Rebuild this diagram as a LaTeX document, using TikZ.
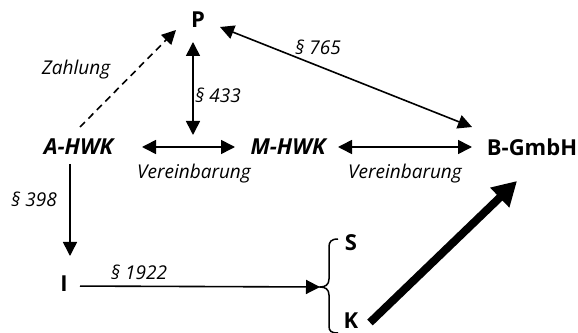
\documentclass[tikz,border=0pt]{standalone}
\usepackage{fontspec}
\setmainfont{Open Sans}
\usetikzlibrary{arrows.meta}
\tikzset{
  lbl/.style={font=\bfseries\fontsize{22}{24}\selectfont, inner sep=0pt},
  lbli/.style={font=\bfseries\itshape\fontsize{22}{24}\selectfont, inner sep=0pt},
  note/.style={font=\itshape\fontsize{19}{21}\selectfont, inner sep=0pt},
  con/.style={line width=1.6pt, -{Triangle[length=14pt,width=14pt]}},
  dcon/.style={line width=1.6pt, {Triangle[length=14pt,width=14pt]}-{Triangle[length=14pt,width=14pt]}},
  bigarrow/.style={line width=8pt, -{Triangle[length=24pt,width=26pt]}},
}
\begin{document}
\begin{tikzpicture}[x=1pt,y=1pt]
\useasboundingbox (0,0) rectangle (578,332);
% nodes
\node[lbl]  (P) at (198,312) {P};
\node[lbli] (A) at (78.5,185) {A-HWK};
\node[lbli] (M) at (288,185) {M-HWK};
\node[lbl]  (B) at (532,185) {B-GmbH};
\node[lbl]  (I) at (64,48) {I};
\node[lbl]  (S) at (351,89) {S};
\node[lbl]  (K) at (351,11.5) {K};
\coordinate (br) at (320,45);
% labels
\node[note] (zahl) at (76,262) {Zahlung};
\node[note] (p433) at (218,237) {§ 433};
\node[note] (p765) at (318,285) {§ 765};
\node[note] (p398) at (34,133) {§ 398};
\node[note] (p1922) at (139,60) {§ 1922};
\node[note] (v1) at (194,158) {Vereinbarung};
\node[note] (v2) at (405,158) {Vereinbarung};
% connectors
\draw[dcon, shorten <=63.5pt, shorten >=53pt] (A.center) -- (M.center);
\draw[dcon, shorten <=50pt, shorten >=60pt] (M.center) -- (B.center);
\draw[dcon, shorten <=22pt, shorten >=12pt] ([xshift=-5pt]P.center) -- ([xshift=-5pt]P.center |- A.center);
\draw[con, dash pattern=on 7pt off 5pt] ([shift={(1.5,20)}]A.center) -- ([shift={(-22,-10)}]P.center);
\draw[dcon] ([shift={(22,-7)}]P.center) -- ([shift={(-60,20)}]B.center);
\draw[con] ([shift={(-8.5,-17)}]A.center) -- ([shift={(6,28)}]I.center);
\draw[con, shorten <=16pt] ([yshift=-2pt]I.center) -- (br);
\draw[bigarrow] ([shift={(19,-2)}]K.center) -- ([shift={(-15,-34)}]B.center);
% brace
\draw[line width=1.5pt] (338,93) .. controls (331,93) and (329,90) .. (329,85) -- (329,53) .. controls (329,47) and (325,45) .. (br) .. controls (325,45) and (329,43) .. (329,37) -- (329,6) .. controls (329,1) and (331,-1) .. (338,-1);
\end{tikzpicture}
\end{document}
